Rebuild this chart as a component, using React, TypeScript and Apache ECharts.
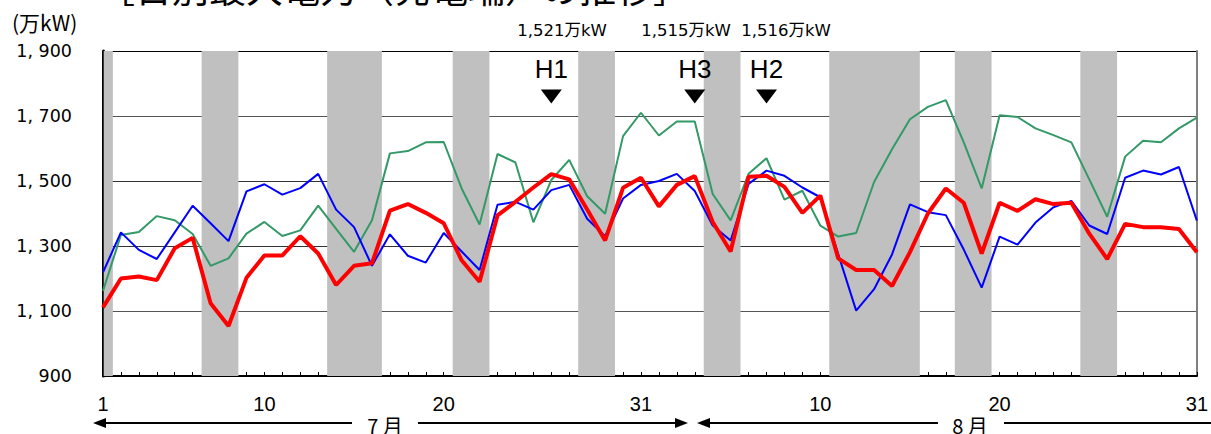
import React, { useEffect, useRef } from "react";
import * as echarts from "echarts";

// Day index: July 1 = 1 ... August 31 = 62
const dayCount = 62;
const xTickLabels: Record<number, string> = { 1: "1", 10: "10", 20: "20", 31: "31", 41: "10", 51: "20", 62: "31" };

const redSeries = [
  1111, 1200, 1206, 1195, 1293, 1325, 1124, 1054, 1202, 1271,
  1271, 1330, 1277, 1180, 1239, 1247, 1409, 1429, 1402, 1370,
  1256, 1190, 1394, 1436, 1480, 1521, 1505, 1412, 1317, 1479,
  1510, 1422, 1488, 1515, 1374, 1283, 1513, 1516, 1482, 1402,
  1455, 1262, 1226, 1226, 1177, 1281, 1400, 1477, 1433, 1277,
  1433, 1408, 1444, 1429, 1433, 1338, 1260, 1368, 1358, 1358, 1352, 1281,
];
const blueSeries = [
  1219, 1342, 1288, 1260, 1342, 1424, 1370, 1315, 1468, 1490,
  1458, 1478, 1522, 1412, 1358, 1239, 1336, 1270, 1249, 1340,
  1283, 1226, 1427, 1436, 1412, 1472, 1488, 1384, 1330, 1446,
  1488, 1500, 1522, 1469, 1363, 1317, 1491, 1532, 1516, 1480,
  1450, 1275, 1101, 1167, 1274, 1428, 1404, 1395, 1289, 1172,
  1329, 1304, 1372, 1419, 1439, 1363, 1337, 1510, 1532, 1520, 1543, 1378,
];
const greenSeries = [
  1162, 1334, 1343, 1392, 1379, 1337, 1239, 1262, 1338, 1374,
  1331, 1348, 1424, 1353, 1282, 1379, 1585, 1592, 1619, 1620,
  1477, 1366, 1583, 1557, 1373, 1503, 1565, 1453, 1399, 1638,
  1710, 1640, 1683, 1683, 1460, 1379, 1522, 1570, 1443, 1470,
  1363, 1329, 1340, 1497, 1598, 1690, 1728, 1749, 1619, 1477,
  1702, 1697, 1662, 1641, 1619, 1505, 1390, 1575, 1624, 1619, 1662, 1695,
];

// weekends & holidays (shaded)
const holidayDays = [1, 7, 8, 14, 15, 16, 21, 22, 28, 29, 35, 36, 42, 43, 44, 45, 46, 49, 50, 56, 57];

const peakNames = ["H1", "H2", "H3"];
const peakDays = [26, 38, 34];
const peakLabels = ["1,521万kW", "1,516万kW", "1,515万kW"];

const yTitle = "(万kW)";
const chartTitle = "［日別最大電力（発電端）の推移］";
const monthLabels = ["7 月", "8 月"];

const CJK = "'Noto Sans CJK JP', sans-serif";
const NUM = "'DejaVu Sans', 'Noto Sans CJK JP', sans-serif";
const NARROW = "'Liberation Sans Narrow', 'Liberation Sans', 'Noto Sans', sans-serif";

function buildRanges(days: number[]): [number, number][] {
  const out: [number, number][] = [];
  let start = days[0];
  let prev = days[0];
  for (let i = 1; i <= days.length; i++) {
    const d = days[i];
    if (d === prev + 1) {
      prev = d;
      continue;
    }
    out.push([Math.max(1.04, start - 0.5), Math.min(dayCount, prev + 0.55)]);
    start = d;
    prev = d;
  }
  return out;
}

function toPairs(values: number[]) {
  return values.map((v, i) => [i + 1, v]);
}

export default function App() {
  const ref = useRef<HTMLDivElement>(null);
  useEffect(() => {
    if (!ref.current) return;
    const chart = echarts.init(ref.current, undefined, { renderer: "svg" });
    const ranges = buildRanges(holidayDays);
    const arrowY = 423;
    const option: any = {
      animation: false,
      grid: { left: 103, right: 13, top: 51, bottom: 58 },
      xAxis: {
        type: "value",
        min: 1,
        max: dayCount,
        interval: 1,
        axisLine: { lineStyle: { color: "#000", width: 2 } },
        axisTick: { inside: true, length: 4, lineStyle: { color: "#000", width: 1 } },
        axisLabel: {
          formatter: (v: number) => xTickLabels[v] ?? "",
          color: "#000",
          fontSize: 20,
          fontFamily: NARROW,
          margin: 18,
        },
        splitLine: { show: false },
      },
      yAxis: [
        {
          type: "value",
          min: 900,
          max: 1900,
          interval: 200,
          axisLine: { show: true, lineStyle: { color: "#000", width: 3 } },
          axisTick: { show: true, inside: true, length: 5, lineStyle: { color: "#000" } },
          axisLabel: {
            formatter: (v: number) => {
              const s = String(v);
              return s.length > 3 ? s.slice(0, -3) + ", " + s.slice(-3) : s;
            },
            color: "#000",
            fontSize: 17.5,
            fontFamily: NUM,
            margin: 31,
          },
          splitLine: {
            show: true,
            lineStyle: { color: ["#000", "#555", "#333", "#333", "#555", "#000"], width: 1 },
          },
        },
        {
          type: "value",
          position: "right",
          min: 900,
          max: 1900,
          interval: 200,
          axisLine: { show: true, lineStyle: { color: "#808080", width: 2 } },
          axisTick: { show: false },
          axisLabel: { show: false },
          splitLine: { show: false },
        },
      ],
      series: [
        {
          type: "line",
          data: [],
          silent: true,
          z: 1,
          markArea: {
            silent: true,
            itemStyle: { color: "#C0C0C0", opacity: 1, borderWidth: 0 },
            data: ranges.map(([a, b]) => [{ xAxis: a }, { xAxis: b }]),
          },
        },
        {
          type: "line",
          name: "green",
          data: toPairs(greenSeries),
          showSymbol: false,
          symbol: "none",
          z: 3,
          lineStyle: { color: "#339966", width: 2 },
          itemStyle: { color: "#339966" },
        },
        {
          type: "line",
          name: "blue",
          data: toPairs(blueSeries),
          showSymbol: false,
          symbol: "none",
          z: 4,
          lineStyle: { color: "#0000FF", width: 2 },
          itemStyle: { color: "#0000FF" },
        },
        {
          type: "line",
          name: "red",
          data: toPairs(redSeries),
          showSymbol: false,
          symbol: "none",
          z: 5,
          lineStyle: { color: "#FF0000", width: 4 },
          itemStyle: { color: "#FF0000" },
          markPoint: {
            symbol: "triangle",
            symbolRotate: 180,
            symbolSize: [21, 14],
            itemStyle: { color: "#000" },
            label: {
              show: true,
              position: "top",
              distance: 8,
              color: "#000",
              fontSize: 26,
              fontFamily: NARROW,
              formatter: "{b}",
            },
            data: peakNames.map((n, i) => ({ name: n, coord: [peakDays[i], 1760] })),
          },
        },
      ],
      graphic: [
        {
          type: "text",
          left: 98,
          top: -32,
          style: { text: chartTitle, fill: "#000", font: `37px ${CJK}` },
        },
        {
          type: "text",
          x: 12,
          y: 22,
          style: { text: yTitle, fill: "#000", font: `21px ${CJK}`, textVerticalAlign: "middle" },
        },
        {
          type: "text",
          x: 562,
          y: 30,
          style: { text: peakLabels[0], fill: "#000", font: `16.5px ${NUM}`, textAlign: "center", textVerticalAlign: "middle" },
        },
        {
          type: "text",
          x: 686,
          y: 30,
          style: { text: peakLabels[2], fill: "#000", font: `16.5px ${NUM}`, textAlign: "center", textVerticalAlign: "middle" },
        },
        {
          type: "text",
          x: 786,
          y: 30,
          style: { text: peakLabels[1], fill: "#000", font: `16.5px ${NUM}`, textAlign: "center", textVerticalAlign: "middle" },
        },
        // July arrow
        { type: "line", shape: { x1: 100, y1: arrowY, x2: 352, y2: arrowY }, style: { stroke: "#000", lineWidth: 2 } },
        { type: "line", shape: { x1: 418, y1: arrowY, x2: 680, y2: arrowY }, style: { stroke: "#000", lineWidth: 2 } },
        { type: "polygon", shape: { points: [[93, arrowY], [106, arrowY - 5], [106, arrowY + 5]] }, style: { fill: "#000" } },
        { type: "polygon", shape: { points: [[688, arrowY], [675, arrowY - 5], [675, arrowY + 5]] }, style: { fill: "#000" } },
        {
          type: "text",
          x: 385,
          y: 425,
          style: { text: monthLabels[0], fill: "#000", font: `20px ${CJK}`, textAlign: "center", textVerticalAlign: "middle" },
        },
        // August arrow
        { type: "line", shape: { x1: 704, y1: arrowY, x2: 938, y2: arrowY }, style: { stroke: "#000", lineWidth: 2 } },
        { type: "line", shape: { x1: 1004, y1: arrowY, x2: 1211, y2: arrowY }, style: { stroke: "#000", lineWidth: 2 } },
        { type: "polygon", shape: { points: [[697, arrowY], [710, arrowY - 5], [710, arrowY + 5]] }, style: { fill: "#000" } },
        {
          type: "text",
          x: 970,
          y: 425,
          style: { text: monthLabels[1], fill: "#000", font: `20px ${CJK}`, textAlign: "center", textVerticalAlign: "middle" },
        },
      ],
    };
    chart.setOption(option);
    return () => chart.dispose();
  }, []);
  return (
    <div
      ref={ref}
      style={{ position: "fixed", left: 0, top: 0, width: 1211, height: 434, background: "#fff" }}
    />
  );
}
